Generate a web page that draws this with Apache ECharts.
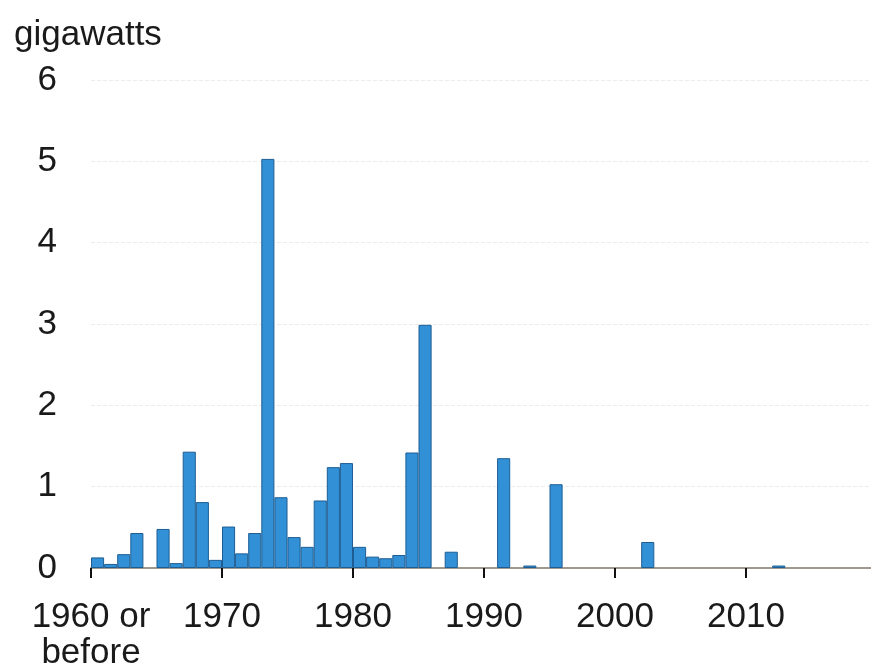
<!DOCTYPE html>
<html>
<head>
<meta charset="utf-8">
<script src="https://cdn.jsdelivr.net/npm/echarts@6/dist/echarts.min.js"></script>
<style>
html,body{margin:0;padding:0;background:#fff;}
#chart{width:871px;height:672px;}
</style>
</head>
<body>
<div id="chart"></div>
<script>
var years = ['1960','1961','1962','1963','1964','1965','1966','1967','1968','1969',
             '1970','1971','1972','1973','1974','1975','1976','1977','1978','1979',
             '1980','1981','1982','1983','1984','1985','1986','1987','1988','1989',
             '1990','1991','1992','1993','1994','1995','1996','1997','1998','1999',
             '2000','2001','2002','2003','2004','2005','2006','2007','2008','2009',
             '2010','2011','2012','2013','2014','2015','2016','2017','2018','2019'];
var gigawatts = [0.13,0.05,0.17,0.43,0,0.48,0.06,1.43,0.81,0.10,
                 0.51,0.18,0.43,5.03,0.87,0.38,0.26,0.83,1.24,1.29,
                 0.26,0.14,0.12,0.16,1.42,2.99,0,0.20,0,0,
                 0,1.35,0,0.03,0,1.03,0,0,0,0,
                 0,0,0.32,0,0,0,0,0,0,0,
                 0,0,0.03,0,0,0,0,0,0,0];
var xTickLabels = {1960:'1960 or\nbefore',1970:'1970',1980:'1980',1990:'1990',2000:'2000',2010:'2010'};
var yTitle = 'gigawatts';

var font = 'Liberation Sans, Arial, sans-serif';
var chart = echarts.init(document.getElementById('chart'), null, {renderer:'canvas'});
chart.setOption({
  backgroundColor:'#fff',
  animation:false,
  title:{text:yTitle,left:9,top:13,textStyle:{fontFamily:font,fontSize:35,fontWeight:'normal',color:'#1a1a1a'}},
  grid:{left:91,top:80,width:786,height:488,outerBoundsMode:'none'},
  xAxis:[{
    type:'category',data:years,boundaryGap:true,
    axisLine:{show:false},axisTick:{show:false},axisLabel:{show:false},splitLine:{show:false}
  },{
    type:'value',position:'bottom',min:1960,max:2020,interval:10,
    axisLine:{show:true,lineStyle:{color:'#a09a8e',width:2}},
    axisTick:{show:true,length:10,lineStyle:{color:'#111',width:2}},
    splitLine:{show:false},
    axisLabel:{margin:31,fontFamily:font,fontSize:35,color:'#1a1a1a',lineHeight:36,
      formatter:function(v){return xTickLabels[v]||'';}}
  }],
  yAxis:{
    type:'value',min:0,max:6,interval:1,
    axisLine:{show:false},axisTick:{show:false},
    axisLabel:{margin:34,fontFamily:font,fontSize:35,color:'#1a1a1a'},
    splitLine:{show:true,lineStyle:{color:'#ececec',type:'dashed',width:1}}
  },
  series:[{
    type:'bar',xAxisIndex:0,
    data:gigawatts.map(function(v){return v===0?'-':v;}),
    barCategoryGap:'0%',
    itemStyle:{color:'#3291d6',borderColor:'#1d5d93',borderWidth:1}
  }]
});
</script>
</body>
</html>
